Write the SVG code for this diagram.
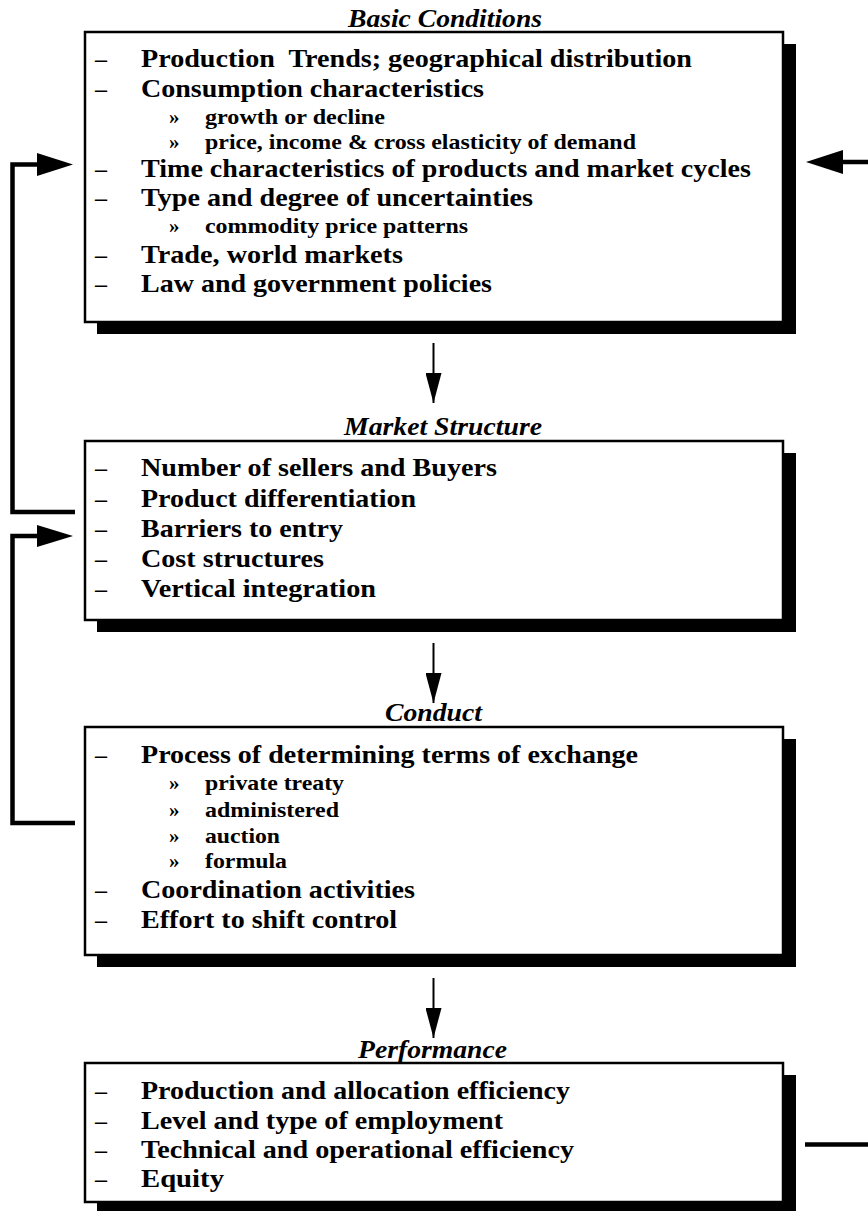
<svg xmlns="http://www.w3.org/2000/svg" width="868" height="1211" viewBox="0 0 868 1211">
<defs>
<style>
.box{fill:#fff;stroke:#000;stroke-width:2.5}
.sh{fill:#000}
.t{font-family:"Liberation Serif","Times New Roman",serif;font-weight:bold;font-size:26px;fill:#000}
.s{font-family:"Liberation Serif","Times New Roman",serif;font-weight:bold;font-size:21px;fill:#000}
.d{font-family:"Liberation Serif","Times New Roman",serif;font-weight:bold;font-size:24px;fill:#000}
.h{font-family:"Liberation Serif","Times New Roman",serif;font-weight:bold;font-style:italic;font-size:26px;fill:#000}
.fl{fill:none;stroke:#000;stroke-width:4.5}
.dl{fill:none;stroke:#000;stroke-width:2}
</style>
<marker id="down" markerUnits="userSpaceOnUse" markerWidth="30" markerHeight="16" refX="30" refY="8" orient="auto" viewBox="0 0 30 16"><path d="M0,0 L30,8 L0,16 z" fill="#000"/></marker>
</defs>
<rect width="868" height="1211" fill="#fff"/>

<g id="connectors">
<line class="dl" x1="433.5" y1="343" x2="433.5" y2="403" marker-end="url(#down)"/>
<line class="dl" x1="433.5" y1="643" x2="433.5" y2="703" marker-end="url(#down)"/>
<line class="dl" x1="433.5" y1="978" x2="433.5" y2="1038" marker-end="url(#down)"/>
<polyline class="fl" points="75,512 12.5,512 12.5,164.5 40,164.5"/>
<polygon points="37,153 73,164.5 37,176" fill="#000"/>
<polyline class="fl" points="75,823 12.5,823 12.5,536 40,536"/>
<polygon points="37,525 73,536 37,547" fill="#000"/>
<line class="fl" x1="868" y1="162" x2="840" y2="162"/>
<polygon points="843,150 806,162 843,174" fill="#000"/>
<line class="fl" x1="805" y1="1144.5" x2="868" y2="1144.5"/>
</g>

<g id="basic-conditions">
<text class="h" x="348" y="27" textLength="194" lengthAdjust="spacingAndGlyphs">Basic Conditions</text>
<rect class="sh" x="97" y="44" width="699" height="290"/>
<rect class="box" x="85" y="32" width="698" height="290"/>
<text class="d" x="95" y="67">–</text><text class="t" x="141" y="67" textLength="551" lengthAdjust="spacingAndGlyphs" xml:space="preserve">Production  Trends; geographical distribution</text>
<text class="d" x="95" y="97">–</text><text class="t" x="141" y="97" textLength="343" lengthAdjust="spacingAndGlyphs">Consumption characteristics</text>
<text class="s" x="169" y="124">»</text><text class="s" x="205" y="124" textLength="180" lengthAdjust="spacingAndGlyphs">growth or decline</text>
<text class="s" x="169" y="149">»</text><text class="s" x="205" y="149" textLength="431" lengthAdjust="spacingAndGlyphs">price, income &amp; cross elasticity of demand</text>
<text class="d" x="95" y="177">–</text><text class="t" x="141" y="177" textLength="610" lengthAdjust="spacingAndGlyphs">Time characteristics of products and market cycles</text>
<text class="d" x="95" y="206">–</text><text class="t" x="141" y="206" textLength="392" lengthAdjust="spacingAndGlyphs">Type and degree of uncertainties</text>
<text class="s" x="169" y="233">»</text><text class="s" x="205" y="233" textLength="263" lengthAdjust="spacingAndGlyphs">commodity price patterns</text>
<text class="d" x="95" y="263">–</text><text class="t" x="141" y="263" textLength="262" lengthAdjust="spacingAndGlyphs">Trade, world markets</text>
<text class="d" x="95" y="292">–</text><text class="t" x="141" y="292" textLength="351" lengthAdjust="spacingAndGlyphs">Law and government policies</text>
</g>

<g id="market-structure">
<text class="h" x="344" y="435" textLength="198" lengthAdjust="spacingAndGlyphs">Market Structure</text>
<rect class="sh" x="97" y="453" width="699" height="179"/>
<rect class="box" x="85" y="441" width="698" height="179"/>
<text class="d" x="95" y="476">–</text><text class="t" x="141" y="476" textLength="356" lengthAdjust="spacingAndGlyphs">Number of sellers and Buyers</text>
<text class="d" x="95" y="507">–</text><text class="t" x="141" y="507" textLength="275" lengthAdjust="spacingAndGlyphs">Product differentiation</text>
<text class="d" x="95" y="537">–</text><text class="t" x="141" y="537" textLength="202" lengthAdjust="spacingAndGlyphs">Barriers to entry</text>
<text class="d" x="95" y="567">–</text><text class="t" x="141" y="567" textLength="183" lengthAdjust="spacingAndGlyphs">Cost structures</text>
<text class="d" x="95" y="597">–</text><text class="t" x="141" y="597" textLength="235" lengthAdjust="spacingAndGlyphs">Vertical integration</text>
</g>

<g id="conduct">
<text class="h" x="385" y="721" textLength="97" lengthAdjust="spacingAndGlyphs">Conduct</text>
<rect class="sh" x="97" y="739" width="699" height="228"/>
<rect class="box" x="85" y="727" width="698" height="228"/>
<text class="d" x="95" y="763">–</text><text class="t" x="141" y="763" textLength="497" lengthAdjust="spacingAndGlyphs">Process of determining terms of exchange</text>
<text class="s" x="169" y="790">»</text><text class="s" x="205" y="790" textLength="139" lengthAdjust="spacingAndGlyphs">private treaty</text>
<text class="s" x="169" y="816.5">»</text><text class="s" x="205" y="816.5" textLength="134" lengthAdjust="spacingAndGlyphs">administered</text>
<text class="s" x="169" y="843">»</text><text class="s" x="205" y="843" textLength="75" lengthAdjust="spacingAndGlyphs">auction</text>
<text class="s" x="169" y="868">»</text><text class="s" x="205" y="868" textLength="82" lengthAdjust="spacingAndGlyphs">formula</text>
<text class="d" x="95" y="898">–</text><text class="t" x="141" y="898" textLength="274" lengthAdjust="spacingAndGlyphs">Coordination activities</text>
<text class="d" x="95" y="928">–</text><text class="t" x="141" y="928" textLength="256" lengthAdjust="spacingAndGlyphs">Effort to shift control</text>
</g>

<g id="performance">
<text class="h" x="358" y="1058" textLength="149" lengthAdjust="spacingAndGlyphs">Performance</text>
<rect class="sh" x="97" y="1075" width="699" height="139"/>
<rect class="box" x="85" y="1063" width="698" height="139"/>
<text class="d" x="95" y="1099">–</text><text class="t" x="141" y="1099" textLength="429" lengthAdjust="spacingAndGlyphs">Production and allocation efficiency</text>
<text class="d" x="95" y="1129">–</text><text class="t" x="141" y="1129" textLength="362" lengthAdjust="spacingAndGlyphs">Level and type of employment</text>
<text class="d" x="95" y="1157.5">–</text><text class="t" x="141" y="1157.5" textLength="433" lengthAdjust="spacingAndGlyphs">Technical and operational efficiency</text>
<text class="d" x="95" y="1186.5">–</text><text class="t" x="141" y="1186.5" textLength="83" lengthAdjust="spacingAndGlyphs">Equity</text>
</g>
</svg>
